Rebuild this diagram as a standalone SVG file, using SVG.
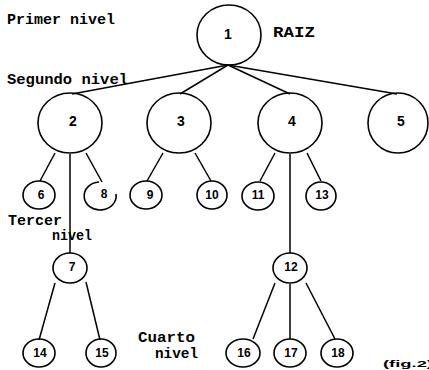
<svg xmlns="http://www.w3.org/2000/svg" width="429" height="370" viewBox="0 0 429 370">
  <style>
    .node { fill: none; stroke: #000; stroke-width: 1.6; }
    .edge { fill: none; stroke: #000; stroke-width: 1.5; }
    .num { font-family: "Liberation Sans", Arial, sans-serif; font-weight: bold; font-size: 14px; text-anchor: middle; fill: #000; }
    .snum { font-family: "Liberation Sans", Arial, sans-serif; font-weight: bold; font-size: 12px; text-anchor: middle; fill: #000; }
    .lbl { font-family: "Liberation Mono", "Courier New", monospace; font-weight: bold; font-size: 14px; fill: #000; }
    .note { font-family: "Liberation Sans", Arial, sans-serif; font-weight: bold; font-size: 9px; fill: #000; }
  </style>
  <rect width="429" height="370" fill="#fff"/>

  <!-- level labels -->
  <g id="labels">
    <text class="lbl" x="7" y="24" textLength="108" lengthAdjust="spacingAndGlyphs">Primer nivel</text>
    <text class="lbl" x="273" y="37" textLength="42" lengthAdjust="spacingAndGlyphs">RAIZ</text>
    <text class="lbl" x="7" y="84" textLength="121" lengthAdjust="spacingAndGlyphs">Segundo nivel</text>
    <text class="lbl" x="8" y="225" textLength="54" lengthAdjust="spacingAndGlyphs">Tercer</text>
    <text class="lbl" x="52" y="240" textLength="40" lengthAdjust="spacingAndGlyphs">nivel</text>
    <text class="lbl" x="138" y="342" textLength="57" lengthAdjust="spacingAndGlyphs">Cuarto</text>
    <text class="lbl" x="155" y="358" textLength="43" lengthAdjust="spacingAndGlyphs">nivel</text>
    <text class="note" x="383" y="367" textLength="50" lengthAdjust="spacingAndGlyphs">(fig.2)</text>
  </g>

  <!-- connectors -->
  <g id="edges">
    <line class="edge" x1="228" y1="65" x2="72" y2="94"/>
    <line class="edge" x1="228" y1="65" x2="180" y2="94"/>
    <line class="edge" x1="228" y1="65" x2="290" y2="94"/>
    <line class="edge" x1="228" y1="65" x2="397" y2="94"/>

    <line class="edge" x1="55" y1="153" x2="40" y2="181"/>
    <line class="edge" x1="86" y1="153" x2="102" y2="182"/>
    <line class="edge" x1="70" y1="154" x2="70" y2="253"/>

    <line class="edge" x1="163" y1="153" x2="147" y2="181"/>
    <line class="edge" x1="195" y1="153" x2="211" y2="181"/>

    <line class="edge" x1="275" y1="153" x2="260" y2="181"/>
    <line class="edge" x1="307" y1="153" x2="321" y2="181"/>
    <line class="edge" x1="290" y1="154" x2="290" y2="253"/>

    <line class="edge" x1="55" y1="283" x2="39" y2="340"/>
    <line class="edge" x1="86" y1="282" x2="100" y2="340"/>

    <line class="edge" x1="275" y1="283" x2="253" y2="339"/>
    <line class="edge" x1="290" y1="284" x2="290" y2="339"/>
    <line class="edge" x1="306" y1="283" x2="335" y2="339"/>
  </g>

  <!-- level 1 -->
  <g id="n1"><ellipse class="node" cx="229" cy="35" rx="32" ry="30"/><text class="num" x="228" y="39">1</text></g>

  <!-- level 2 -->
  <g id="n2"><ellipse class="node" cx="70" cy="123" rx="32" ry="30"/><text class="num" x="73" y="126">2</text></g>
  <g id="n3"><ellipse class="node" cx="179" cy="123" rx="32" ry="30"/><text class="num" x="181" y="126">3</text></g>
  <g id="n4"><ellipse class="node" cx="290" cy="123" rx="32" ry="30"/><text class="num" x="292" y="126">4</text></g>
  <g id="n5"><ellipse class="node" cx="398" cy="123" rx="30" ry="30"/><text class="num" x="401" y="126">5</text></g>

  <!-- level 3 -->
  <g id="n6"><ellipse class="node" cx="39" cy="195" rx="16" ry="14"/><text class="snum" x="41" y="199">6</text></g>
  <g id="n8"><path class="node" d="M 99 182 A 16 14 0 1 0 116 194"/><text class="snum" x="104" y="198">8</text></g>
  <g id="n9"><ellipse class="node" cx="146" cy="195" rx="16" ry="14"/><text class="snum" x="150" y="199">9</text></g>
  <g id="n10"><ellipse class="node" cx="212" cy="195" rx="15" ry="14"/><text class="snum" x="212" y="199">10</text></g>
  <g id="n11"><ellipse class="node" cx="258" cy="196" rx="16" ry="14"/><text class="snum" x="258" y="199">11</text></g>
  <g id="n13"><ellipse class="node" cx="321" cy="196" rx="15" ry="14"/><text class="snum" x="322" y="199">13</text></g>
  <g id="n7"><ellipse class="node" cx="70" cy="268" rx="17" ry="15"/><text class="snum" x="72" y="271">7</text></g>
  <g id="n12"><ellipse class="node" cx="290" cy="268" rx="17" ry="15"/><text class="snum" x="291" y="271">12</text></g>

  <!-- level 4 -->
  <g id="n14"><ellipse class="node" cx="39" cy="353" rx="16" ry="14"/><text class="snum" x="40" y="357">14</text></g>
  <g id="n15"><ellipse class="node" cx="101" cy="353" rx="15" ry="14"/><text class="snum" x="102" y="357">15</text></g>
  <g id="n16"><ellipse class="node" cx="243" cy="353" rx="17" ry="14"/><text class="snum" x="244" y="357">16</text></g>
  <g id="n17"><ellipse class="node" cx="290" cy="353" rx="16" ry="14"/><text class="snum" x="291" y="357">17</text></g>
  <g id="n18"><ellipse class="node" cx="337" cy="353" rx="16" ry="14"/><text class="snum" x="338" y="357">18</text></g>
</svg>
